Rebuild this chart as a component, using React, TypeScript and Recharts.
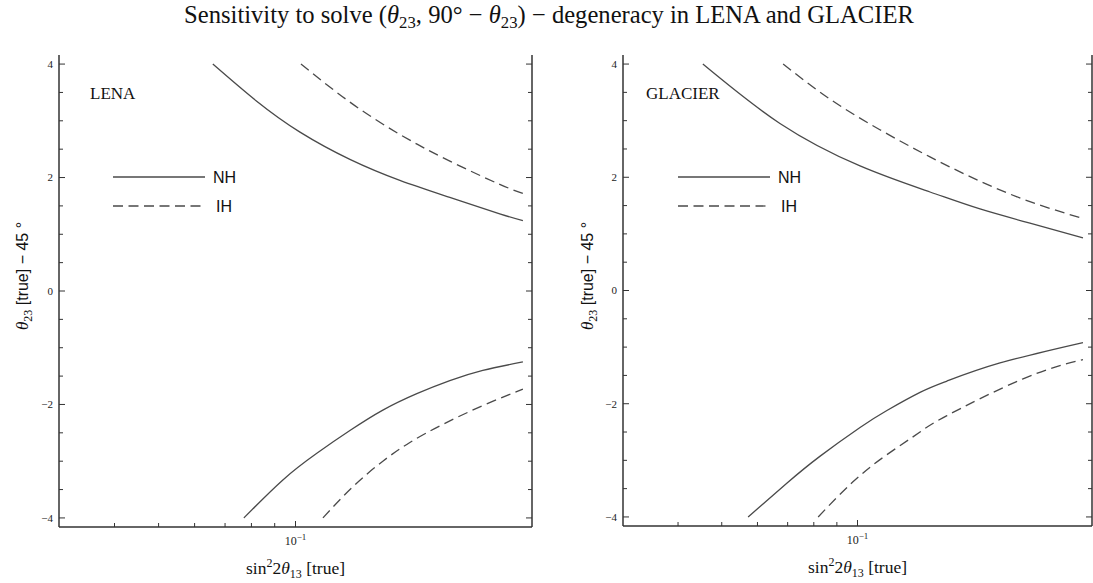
import React from 'react';
import { LineChart, Line, XAxis, YAxis, Legend } from 'recharts';

// LENA panel (x = sin^2 2theta13, y = theta23 - 45 deg)
const lenaNhUpperX = [0.0658, 0.0823, 0.1023, 0.1317, 0.1696, 0.2184, 0.2812, 0.3162];
const lenaNhUpperY = [4.0, 3.34, 2.8, 2.32, 1.95, 1.65, 1.36, 1.24];
const lenaIhUpperX = [0.1028, 0.1317, 0.1696, 0.2184, 0.2812, 0.3162];
const lenaIhUpperY = [4.0, 3.33, 2.76, 2.29, 1.88, 1.72];
const lenaNhLowerX = [0.077, 0.0938, 0.1114, 0.1317, 0.1556, 0.1848, 0.2184, 0.2581, 0.3162];
const lenaNhLowerY = [-4.0, -3.33, -2.86, -2.46, -2.1, -1.81, -1.58, -1.4, -1.25];
const lenaIhLowerX = [0.1149, 0.1337, 0.1556, 0.1784, 0.2109, 0.2581, 0.3162];
const lenaIhLowerY = [-4.0, -3.45, -3.0, -2.67, -2.35, -2.02, -1.73];

// GLACIER panel
const glacierNhUpperX = [0.0454, 0.0673, 0.1013, 0.1448, 0.1869, 0.2412, 0.3162];
const glacierNhUpperY = [4.0, 2.95, 2.2, 1.74, 1.44, 1.19, 0.93];
const glacierIhUpperX = [0.0684, 0.0869, 0.1121, 0.1448, 0.1869, 0.2412, 0.3162];
const glacierIhUpperY = [4.0, 3.38, 2.84, 2.36, 1.93, 1.57, 1.27];
const glacierNhLowerX = [0.0572, 0.0698, 0.0825, 0.1013, 0.1162, 0.1376, 0.1579, 0.207, 0.3162];
const glacierNhLowerY = [-4.0, -3.4, -2.93, -2.42, -2.12, -1.8, -1.6, -1.28, -0.92];
const glacierIhLowerX = [0.0818, 0.0977, 0.1162, 0.1376, 0.1579, 0.2328, 0.3162];
const glacierIhLowerY = [-4.0, -3.38, -2.9, -2.5, -2.21, -1.56, -1.22];

const xDomain = [0.0302, 0.3311];
const yDomain = [-4.16, 4.16];
const xTicks = [0.04, 0.05, 0.06, 0.07, 0.08, 0.09, 0.1];
const yTicks = [-4, -3.5, -3, -2.5, -2, -1.5, -1, -0.5, 0, 0.5, 1, 1.5, 2, 2.5, 3, 3.5, 4];
const yTickLabels: Record<string, string> = { '4': '4', '2': '2', '0': '0', '-2': '−2', '-4': '−4' };
const legendOrder = ['NH', 'IH'];

const CURVE = '#4a4a4a';
const FRAME = '#333';
const DASH = '10 5.5';
const SERIF = '"Liberation Serif", "DejaVu Serif", serif';
const SANS = '"Liberation Sans", Arial, sans-serif';

const toPoints = (xs: number[], ys: number[]) => xs.map((x, i) => ({ x, y: ys[i] }));

const panels = [
  {
    name: 'LENA',
    left: 0,
    width: 545,
    margin: { top: 55, right: 12, bottom: 16, left: 9 },
    legendLeft: 85,
    lineX: 28,
    nh: [toPoints(lenaNhUpperX, lenaNhUpperY), toPoints(lenaNhLowerX, lenaNhLowerY)],
    ih: [toPoints(lenaIhUpperX, lenaIhUpperY), toPoints(lenaIhLowerX, lenaIhLowerY)],
  },
  {
    name: 'GLACIER',
    left: 565,
    width: 528,
    margin: { top: 55, right: 0, bottom: 17, left: 8 },
    legendLeft: 76,
    lineX: 37,
    nh: [toPoints(glacierNhUpperX, glacierNhUpperY), toPoints(glacierNhLowerX, glacierNhLowerY)],
    ih: [toPoints(glacierIhUpperX, glacierIhUpperY), toPoints(glacierIhLowerX, glacierIhLowerY)],
  },
];

const isMajorY = (v: number) => Math.abs(v % 2) < 1e-9;

const YTickLeft = (props: any) => {
  const { x, y, payload } = props;
  const v = payload.value;
  const major = isMajorY(v);
  return (
    <g>
      <line x1={x} x2={x + (major ? 6 : 4)} y1={y} y2={y} stroke={FRAME} strokeWidth={1} />
      {major && (
        <text x={x - 6} y={y} dy="0.35em" textAnchor="end" fontFamily={SERIF} fontSize={11} fill="#222">
          {yTickLabels[String(v)]}
        </text>
      )}
    </g>
  );
};

const YTickRight = (props: any) => {
  const { x, y, payload } = props;
  const major = isMajorY(payload.value);
  return <line x1={x} x2={x - (major ? 6 : 4)} y1={y} y2={y} stroke={FRAME} strokeWidth={1} />;
};

const XTick = (props: any) => {
  const { x, y, payload } = props;
  const major = Math.abs(payload.value - 0.1) < 1e-9;
  return (
    <g>
      <line x1={x} x2={x} y1={y} y2={y - (major ? 6 : 4)} stroke={FRAME} strokeWidth={1} />
      {major && (
        <text x={x} y={y + 18} textAnchor="middle" fontFamily={SERIF} fontSize={12} fill="#222">
          10<tspan dy={-5} fontSize={9}>−1</tspan>
        </text>
      )}
    </g>
  );
};

const renderXLabel = (props: any) => {
  const vb = props.viewBox || {};
  const cx = vb.x + vb.width / 2;
  const baseY = vb.y + 47;
  return (
    <text x={cx} y={baseY} textAnchor="middle" fontFamily={SERIF} fontSize={17.5} fill="#111">
      sin<tspan dy={-7} fontSize={12}>2</tspan>
      <tspan dy={7}>2</tspan>
      <tspan fontStyle="italic">θ</tspan>
      <tspan dy={3.5} fontSize={12}>13</tspan>
      <tspan dy={-3.5}>{'  [true]'}</tspan>
    </text>
  );
};

const renderYLabel = () => {
  const cx = 28;
  const cy = 276;
  return (
    <text
      x={cx}
      y={cy}
      transform={`rotate(-90 ${cx} ${cy})`}
      textAnchor="middle"
      fontSize={16}
      fill="#111"
    >
      <tspan fontFamily={SERIF} fontStyle="italic" fontSize={17}>θ</tspan>
      <tspan fontFamily={SERIF} fontSize={12} dy={4}>23</tspan>
      <tspan fontFamily={SANS} dy={-4}>{'  [true] − 45 °'}</tspan>
    </text>
  );
};

const makeLegend = (name: string, lineX: number) => (props: any) => {
  const items = (props.payload || [])
    .filter((p: any) => p.type !== 'none' && legendOrder.includes(p.value))
    .sort((a: any, b: any) => legendOrder.indexOf(a.value) - legendOrder.indexOf(b.value));
  return (
    <svg width={180} height={140} style={{ display: 'block' }}>
      <text x={5} y={21} fontFamily={SERIF} fontSize={17} fill="#111">
        {name}
      </text>
      {items.map((it: any, i: number) => {
        const yy = 99 + i * 29;
        const dashed = it.value === 'IH';
        return (
          <g key={it.value}>
            <line
              x1={lineX}
              x2={lineX + 92}
              y1={yy}
              y2={yy}
              stroke={CURVE}
              strokeWidth={1.3}
              strokeDasharray={dashed ? DASH : undefined}
            />
            <text x={lineX + 100 + (dashed ? 3 : 0)} y={yy} dy="0.36em" fontFamily={SANS} fontSize={16} fill="#111">
              {it.value}
            </text>
          </g>
        );
      })}
    </svg>
  );
};

const Panel = ({ panel }: { panel: (typeof panels)[number] }) => (
  <div style={{ position: 'absolute', left: panel.left, top: 0 }}>
    <LineChart width={panel.width} height={583} margin={panel.margin}>
      <XAxis
        dataKey="x"
        type="number"
        scale="log"
        domain={xDomain}
        allowDataOverflow
        ticks={xTicks}
        interval={0}
        tick={<XTick />}
        tickLine={false}
        tickSize={0}
        tickMargin={0}
        height={40}
        axisLine={{ stroke: FRAME, strokeWidth: 1.5 }}
        label={renderXLabel}
      />
      <XAxis
        xAxisId="top"
        orientation="top"
        dataKey="x"
        type="number"
        scale="log"
        domain={xDomain}
        allowDataOverflow
        tick={false}
        tickLine={false}
        height={0}
        axisLine={{ stroke: FRAME, strokeWidth: 1.5 }}
      />
      <YAxis
        type="number"
        domain={yDomain}
        allowDataOverflow
        ticks={yTicks}
        interval={0}
        tick={<YTickLeft />}
        tickLine={false}
        tickSize={0}
        tickMargin={0}
        width={50}
        axisLine={{ stroke: FRAME, strokeWidth: 1.5 }}
        label={renderYLabel}
      />
      <YAxis
        yAxisId="right"
        orientation="right"
        type="number"
        domain={yDomain}
        allowDataOverflow
        ticks={yTicks}
        interval={0}
        tick={<YTickRight />}
        tickLine={false}
        tickSize={0}
        tickMargin={0}
        width={1}
        axisLine={{ stroke: FRAME, strokeWidth: 1.5 }}
      />
      <Legend
        layout="vertical"
        align="center"
        verticalAlign="middle"
        wrapperStyle={{ left: panel.legendLeft, top: 78, width: 180 }}
        content={makeLegend(panel.name, panel.lineX)}
      />
      <Line
        data={panel.nh[0]}
        dataKey="y"
        name="NH"
        type="natural"
        stroke={CURVE}
        strokeWidth={1.3}
        dot={false}
        activeDot={false}
        isAnimationActive={false}
      />
      <Line
        data={panel.ih[0]}
        dataKey="y"
        name="IH"
        type="natural"
        stroke={CURVE}
        strokeWidth={1.3}
        strokeDasharray={DASH}
        dot={false}
        activeDot={false}
        isAnimationActive={false}
      />
      <Line
        data={panel.nh[1]}
        dataKey="y"
        name="NH lower"
        legendType="none"
        type="natural"
        stroke={CURVE}
        strokeWidth={1.3}
        dot={false}
        activeDot={false}
        isAnimationActive={false}
      />
      <Line
        data={panel.ih[1]}
        dataKey="y"
        name="IH lower"
        legendType="none"
        type="natural"
        stroke={CURVE}
        strokeWidth={1.3}
        strokeDasharray={DASH}
        dot={false}
        activeDot={false}
        isAnimationActive={false}
      />
    </LineChart>
  </div>
);

const sub = { fontSize: '0.68em', verticalAlign: '-0.3em', lineHeight: 0 } as const;

export default function App() {
  return (
    <div style={{ position: 'absolute', left: 0, top: 0, width: 1093, height: 583, background: '#fff' }}>
      <div
        style={{
          position: 'absolute',
          left: 0,
          top: 1,
          width: 1098,
          textAlign: 'center',
          fontFamily: SERIF,
          fontSize: 24.6,
          color: '#111',
          lineHeight: '28px',
        }}
      >
        Sensitivity to solve (<i>θ</i>
        <span style={sub}>23</span>, 90° − <i>θ</i>
        <span style={sub}>23</span>) − degeneracy in LENA and GLACIER
      </div>
      {panels.map((p) => (
        <Panel key={p.name} panel={p} />
      ))}
    </div>
  );
}
